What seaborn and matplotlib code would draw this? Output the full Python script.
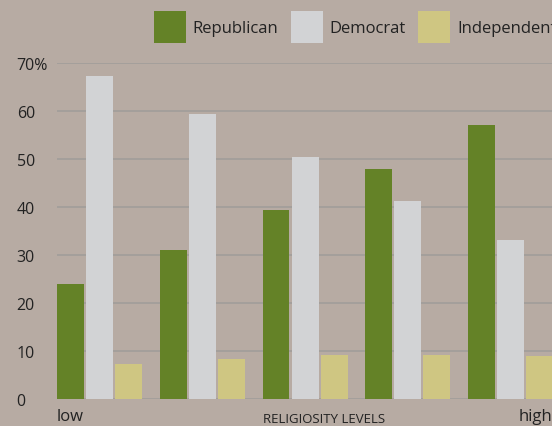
import pandas as pd
import seaborn as sns
import matplotlib.pyplot as plt
from matplotlib.patches import Patch

levels = ["1", "2", "3", "4", "5"]
republican = [23.9, 31, 39.3, 48, 57]
democrat = [67.2, 59.3, 50.5, 41.3, 33]
independent = [7.3, 8.3, 9.1, 9.1, 8.8]
parties = ["Republican", "Democrat", "Independent"]
colors = ["#648227", "#d2d3d5", "#cfc682"]
yticks = [0, 10, 20, 30, 40, 50, 60, 70]
ytick_labels = ["0", "10", "20", "30", "40", "50", "60", "70%"]

bg = "#b7aba3"
ink = "#222222"

df = pd.DataFrame({
    "level": levels * 3,
    "party": [parties[0]] * 5 + [parties[1]] * 5 + [parties[2]] * 5,
    "value": republican + democrat + independent,
})

sns.set_theme(style="white")
plt.rcParams["font.family"] = ["Open Sans", "DejaVu Sans"]

W, H = 552, 427
fig = plt.figure(figsize=(W / 100, H / 100), dpi=100, facecolor=bg)
ax = fig.add_axes([57 / W, (H - 399.7) / H, 1 - 57 / W, (399.7 - 64) / H])
ax.set_facecolor(bg)

sns.barplot(data=df, x="level", y="value", hue="party", hue_order=parties,
            palette=colors, width=0.847, gap=0.07, saturation=1,
            linewidth=0, ax=ax, legend=False, zorder=2)

ax.set_ylim(0, 70)
ax.set_xlim(-0.414, 4.404)
ax.set_yticks(yticks)
ax.set_yticklabels(ytick_labels)
ax.set_xticks([])
ax.set_xlabel("")
ax.set_ylabel("")
ax.yaxis.grid(True, color="#a39e9b", linewidth=1.3, zorder=0)
ax.set_axisbelow(True)
for s in ax.spines.values():
    s.set_visible(False)
ax.tick_params(axis="y", length=0, pad=29, labelsize=11.5, colors=ink)
for lab in ax.get_yticklabels():
    lab.set_horizontalalignment("left")

# x axis annotations
fig.text(57 / W, 1 - 417 / H, "low", fontsize=12, color=ink, ha="left", va="center")
fig.text(324 / W, 1 - 420 / H, "RELIGIOSITY LEVELS", fontsize=9.5, color=ink,
         ha="center", va="center")
fig.text(519 / W, 1 - 417 / H, "high", fontsize=12, color=ink, ha="left", va="center")

# legend
handles = [Patch(facecolor=c, edgecolor="none") for c in colors]
fig.legend(handles, parties, loc="center left", bbox_to_anchor=(154 / W, 1 - 28 / H),
           ncol=3, frameon=False, fontsize=12, handlelength=1.92, handleheight=2.58,
           handletextpad=0.4, columnspacing=0.75, borderpad=0, borderaxespad=0,
           labelcolor=ink)

fig.savefig("out.png", dpi=100, facecolor=bg)
